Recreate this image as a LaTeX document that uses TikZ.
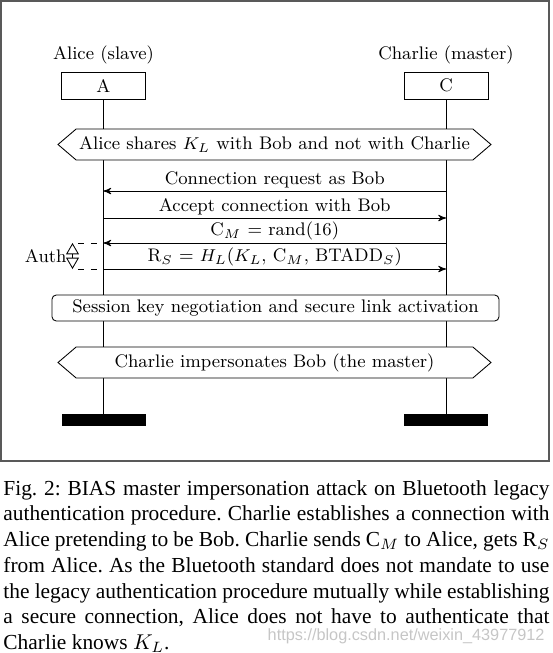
\documentclass[tikz,border=0pt]{standalone}
\usepackage{fontspec}
\newfontfamily\capfont{Liberation Serif}
\newfontfamily\markfont{Liberation Sans}
\usetikzlibrary{arrows,shapes.symbols}

\def\pxu{0.467pt}

\begin{document}
\begin{tikzpicture}[
  x=0.467pt, y=-0.467pt, >=stealth', thin,
  every node/.style={font=\fontsize{8.5}{10}\selectfont},
  party node/.style={draw,minimum width=84*\pxu,minimum height=27*\pxu,inner sep=0pt},
  end node/.style={fill=black,minimum width=84*\pxu,minimum height=12*\pxu,inner sep=0pt},
  note node/.style={draw,fill=white,signal,signal to=west and east,
    signal pointer angle=81,minimum width=433*\pxu,minimum height=31*\pxu,inner sep=1pt},
  phase node/.style={draw,fill=white,rounded corners=2pt,minimum width=447*\pxu,
    minimum height=26*\pxu,inner sep=0pt},
  msg/.style={->},
  msg label/.style={above,inner sep=1pt},
  auth arrow/.style={{open triangle 60}-{open triangle 60}}
]
\useasboundingbox (0,0) rectangle (553,653);
\draw[gray!70!black, line width=0.7pt] (1,1) rectangle (549,461);

% parties
\node[party node,label={above:Alice (slave)}] (alice) at (103.5,85.5) {A};
\node[party node,label={above:Charlie (master)}] (charlie) at (446,85.5) {C};
\node[end node] (aliceend) at (103.5,420) {};
\node[end node] (charlieend) at (446,420) {};
\draw (alice) -- (aliceend);
\draw (charlie) -- (charlieend);

% points on the lifelines
\coordinate (a1) at (103.5,191); \coordinate (c1) at (446,191);
\coordinate (a2) at (103.5,218); \coordinate (c2) at (446,218);
\coordinate (a3) at (103.5,243); \coordinate (c3) at (446,243);
\coordinate (a4) at (103.5,269); \coordinate (c4) at (446,269);

\node[note node] (shared) at (274.5,144.5) {Alice shares $K_L$ with Bob and not with Charlie};

\draw[msg] (c1) -- node[msg label] {Connection request as Bob} (a1);
\draw[msg] (a2) -- node[msg label] {Accept connection with Bob} (c2);
\draw[msg] (c3) -- node[msg label] {C$_M$ = rand(16)} (a3);
\draw[msg] (a4) -- node[msg label] {R$_S$ = $H_L$($K_L$, C$_M$, BTADD$_S$)} (c4);

% authentication bracket
\coordinate (auth1) at (72.5,243); \coordinate (auth2) at (72.5,269);
\coordinate (d3) at (78,243); \coordinate (d4) at (78,269);
\draw[dashed] (d3) -- (a3);
\draw[dashed] (d4) -- (a4);
\draw[auth arrow] (auth1) -- (auth2);
\node[anchor=east,inner sep=0pt] (auth) at (67,256) {Auth};

\node[phase node] (session) at (275.5,308) {Session key negotiation and secure link activation};
\node[note node] (imperson) at (274.5,362.5) {Charlie impersonates Bob (the master)};

% caption
\node[font=\capfont\fontsize{10}{12}\selectfont,text width=546*\pxu,align=justify,
  anchor=north west,inner sep=0pt] (caption) at (3,480) {\hyphenpenalty=10000\frenchspacing
Fig. 2: BIAS master impersonation attack on Bluetooth legacy\linebreak
authentication procedure. Charlie establishes a connection with\linebreak
Alice pretending to be Bob. Charlie sends C$_M$ to Alice, gets R$_S$\linebreak
from Alice. As the Bluetooth standard does not mandate to use\linebreak
the legacy authentication procedure mutually while establishing\linebreak
a secure connection, Alice does not have to authenticate that\linebreak
Charlie knows $K_L$.};
\node[font=\markfont\fontsize{7.6}{9}\selectfont,text=gray!45,anchor=base east,inner sep=0pt]
  (mark) at (545,640) {https://blog.csdn.net/weixin\_43977912};
\end{tikzpicture}
\end{document}
